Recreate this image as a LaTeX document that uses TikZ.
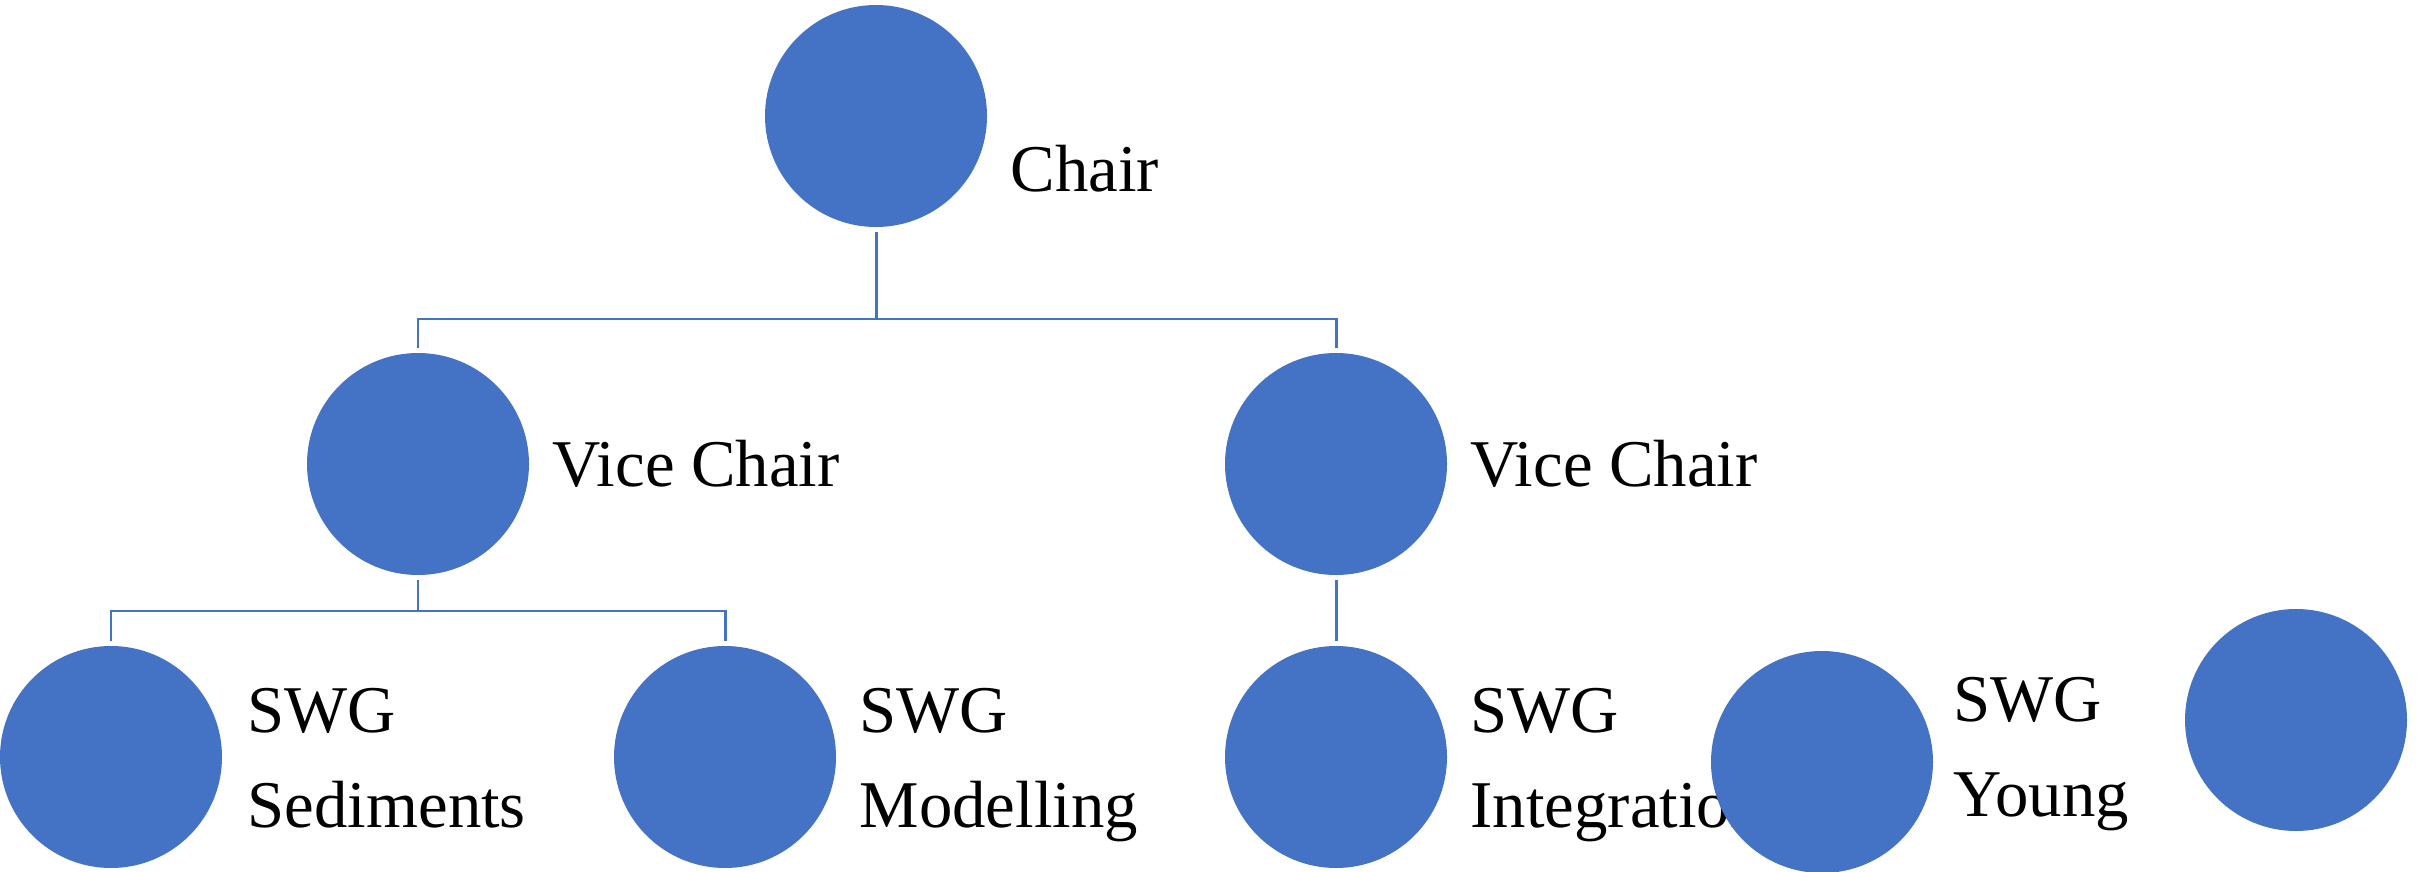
\documentclass[tikz,border=0pt]{standalone}
\usepackage{fontspec}
\setmainfont{Liberation Serif}
\definecolor{officeblue}{HTML}{4472C4}
\tikzset{
  member/.style={circle, fill=officeblue, minimum size=2.22cm, inner sep=0pt, outer sep=0.05cm},
  role/.style={anchor=base west, align=left, inner sep=0pt, font=\fontsize{19}{27}\selectfont},
  link/.style={draw=officeblue, line width=0.85pt},
}
\begin{document}
\begin{tikzpicture}
\useasboundingbox (0,0) rectangle (24.19,-8.72);
\node[member] (N_0_0) at (8.76,-1.16) {};
\node[role] (L_0_0) at (10.10,-1.92) {Chair};
\node[member] (N_1_0) at (4.18,-4.64) {};
\node[role] (L_1_0) at (5.52,-4.86) {Vice Chair};
\node[member] (N_1_1) at (13.36,-4.64) {};
\node[role] (L_1_1) at (14.70,-4.86) {Vice Chair};
\coordinate (J_0) at (8.76,-3.19);
\draw[link] (N_0_0.south) -- (J_0);
\draw[link] (N_1_0.north) |- (J_0) -| (N_1_1.north);
\node[member] (N_2_0) at (1.11,-7.57) {};
\node[role] (L_2_0) at (2.47,-8.27) {SWG\\Sediments};
\node[member] (N_2_1) at (7.25,-7.57) {};
\node[role] (L_2_1) at (8.59,-8.27) {SWG\\Modelling};
\coordinate (J_1) at (4.18,-6.11);
\draw[link] (N_1_0.south) -- (J_1);
\draw[link] (N_2_0.north) |- (J_1) -| (N_2_1.north);
\node[member] (N_2_2) at (13.36,-7.57) {};
\node[role] (L_2_2) at (14.70,-8.27) {SWG\\Integration};
\draw[link] (N_1_1.south) -- (N_2_2.north);
\node[member] (N_2_3) at (18.22,-7.62) {};
\node[role] (L_2_3) at (19.53,-8.16) {SWG\\Young};
\node[member] (N_2_4) at (22.96,-7.20) {};
\end{tikzpicture}
\end{document}
